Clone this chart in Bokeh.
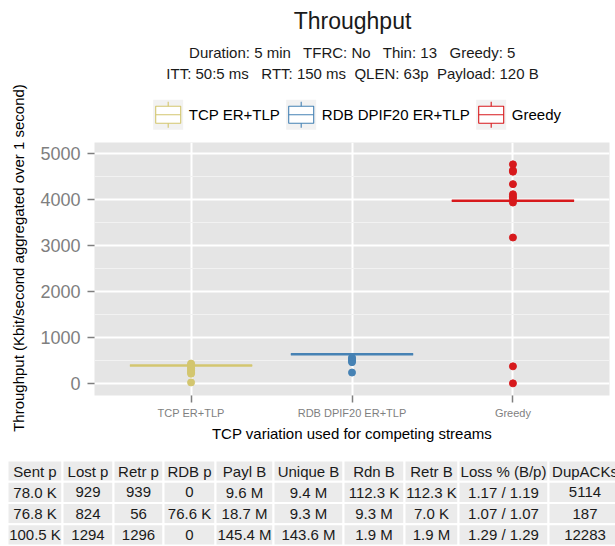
import math
from bokeh.plotting import figure
from bokeh.models import ColumnDataSource, FactorRange, Range1d, FixedTicker
from bokeh.layouts import column, row
from bokeh.transform import dodge
from bokeh.core.properties import value
from bokeh.embed import file_html
from bokeh.resources import INLINE

# ---------------- data ----------------
categories = ["TCP ER+TLP", "RDB DPIF20 ER+TLP", "Greedy"]
series_colors = ["#d3c66f", "#4682b4", "#d7191c"]
box_q1 = [398, 643, 3980]
box_median = [398, 643, 3980]
box_q3 = [398, 643, 3980]
whisker_low = [398, 643, 3980]
whisker_high = [398, 643, 3980]
outliers_tcp = [440, 410, 370, 330, 290, 250, 220, 30]
outliers_rdb = [570, 540, 500, 470, 245]
outliers_greedy = [4770, 4640, 4610, 4340, 4120, 4070, 4030, 3940, 3180, 380, 10]
y_ticks = [0, 1000, 2000, 3000, 4000, 5000]
y_minor = [500, 1500, 2500, 3500, 4500]

title_text = "Throughput"
subtitle_1 = "Duration: 5 min \u00a0 TFRC: No \u00a0 Thin: 13 \u00a0 Greedy: 5"
subtitle_2 = "ITT: 50:5 ms \u00a0 RTT: 150 ms \u00a0QLEN: 63p \u00a0Payload: 120 B"
x_title = "TCP variation used for competing streams"
y_title = "Throughput (Kbit/second aggregated over 1 second)"

table_header = ["Sent p", "Lost p", "Retr p", "RDB p", "Payl B", "Unique B",
                "Rdn B", "Retr B", "Loss % (B/p)", "DupACKs"]
table_tcp = ["78.0 K", "929", "939", "0", "9.6 M", "9.4 M",
             "112.3 K", "112.3 K", "1.17 / 1.19", "5114"]
table_rdb = ["76.8 K", "824", "56", "76.6 K", "18.7 M", "9.3 M",
             "9.3 M", "7.0 K", "1.07 / 1.07", "187"]
table_greedy = ["100.5 K", "1294", "1296", "0", "145.4 M", "143.6 M",
                "1.9 M", "1.9 M", "1.29 / 1.29", "12283"]

# ---------------- layout constants (pixels) ----------------
FONT = "Liberation Sans"
W = 615
STRIP_W = 30
HEAD_H = 134
MAIN_H = 310
TABLE_H = 102
TEXT_COL = "#1a1a1a"


def blank(width, height, xr, yr):
    f = figure(x_range=xr, y_range=yr, width=width, height=height,
               output_backend="svg", toolbar_location=None, min_border=0,
               x_axis_location=None, y_axis_location=None)
    f.frame_align = False
    f.grid.visible = False
    f.outline_line_color = None
    f.background_fill_color = "white"
    f.border_fill_color = "white"
    return f


# ---------------- y-axis title strip ----------------
ystrip = blank(STRIP_W, HEAD_H + MAIN_H, Range1d(0, STRIP_W), Range1d(HEAD_H + MAIN_H, 0))
ystrip.text(x=[18], y=[257.5], text=[y_title], angle=math.pi / 2, text_align="center",
            text_baseline="middle", text_font=value(FONT), text_font_size="15px",
            text_color="black")

# ---------------- header: title, subtitle, legend ----------------
head = blank(W - STRIP_W, HEAD_H, Range1d(STRIP_W, W), Range1d(HEAD_H, 0))
head.text(x=[352, 352, 352], y=[20, 51.5, 72.5], text=[title_text, subtitle_1, subtitle_2],
          text_font_size=["23px", "15px", "15px"], text_align="center",
          text_baseline="middle", text_font=value(FONT), text_color=TEXT_COL)

key_left = [152.7, 285.7, 475.7]
key_top = 99.3
key_size = 30
kx = key_left
kc = [k + key_size / 2 for k in kx]
key_src = ColumnDataSource(dict(
    left=kx, right=[k + key_size for k in kx], cx=kc, color=series_colors,
    bleft=[k + 2.5 for k in kx], bright=[k + key_size - 2.5 for k in kx],
    tx=[k + key_size + 5.6 for k in kx], label=categories))
head.quad(left="left", right="right", top=key_top, bottom=key_top + key_size,
          fill_color="#f2f2f2", line_color=None, source=key_src)
head.segment(x0="cx", y0=key_top + 2, x1="cx", y1=key_top + key_size - 2,
             line_color="color", line_width=1.1, source=key_src)
head.quad(left="bleft", right="bright", top=key_top + 6.5, bottom=key_top + key_size - 6.5,
          fill_color="white", line_color="color", line_width=1.1, source=key_src)
head.segment(x0="bleft", y0=key_top + key_size / 2, x1="bright", y1=key_top + key_size / 2,
             line_color="color", line_width=1.1, source=key_src)
head.text(x="tx", y=key_top + key_size / 2, text="label", text_align="left",
          text_baseline="middle", text_font=value(FONT), text_font_size="15px",
          text_color="black", source=key_src)

# ---------------- main plot ----------------
p = figure(x_range=FactorRange(factors=categories, range_padding=0.1,
                               range_padding_units="absolute"),
           y_range=Range1d(-254, 5245), title=None,
           width=W - STRIP_W, height=MAIN_H, output_backend="svg", toolbar_location=None,
           min_border_left=64, min_border_right=6, min_border_top=8,
           min_border_bottom=49)
p.frame_align = False
p.background_fill_color = "#e5e5e5"
p.border_fill_color = "white"
p.outline_line_color = None

p.xgrid.grid_line_color = "white"
p.xgrid.grid_line_width = 2
p.ygrid.ticker = FixedTicker(ticks=y_ticks, minor_ticks=y_minor)
p.ygrid.grid_line_color = "white"
p.ygrid.grid_line_width = 2
p.ygrid.minor_grid_line_color = "#f2f2f2"
p.ygrid.minor_grid_line_width = 1
p.yaxis.ticker = FixedTicker(ticks=y_ticks)

for ax in (p.xaxis, p.yaxis):
    ax.axis_line_color = None
    ax.major_tick_line_color = "#7f7f7f"
    ax.major_tick_line_width = 1.5
    ax.major_tick_in = 0
    ax.major_tick_out = 7
    ax.minor_tick_line_color = None
    ax.major_label_text_color = "#7f7f7f"
    ax.major_label_text_font = FONT
    ax.axis_label_text_font = FONT
    ax.axis_label_text_font_style = "normal"
    ax.axis_label_text_font_size = "15px"
    ax.axis_label_text_color = "black"
p.yaxis.major_label_text_font_size = "18px"
p.xaxis.major_label_text_font_size = "11px"
p.yaxis.major_label_standoff = 7
p.xaxis.major_label_standoff = 4
p.xaxis.axis_label_standoff = 3
p.xaxis.axis_label = x_title

box_src = ColumnDataSource(dict(cat=categories, q1=box_q1, q3=box_q3, med=box_median,
                                lo=whisker_low, hi=whisker_high, color=series_colors))
p.segment(x0="cat", y0="q3", x1="cat", y1="hi", line_color="color", line_width=1.2, source=box_src)
p.segment(x0="cat", y0="q1", x1="cat", y1="lo", line_color="color", line_width=1.2, source=box_src)
p.vbar(x="cat", width=0.76, top="q3", bottom="q1", fill_color="white",
       line_color="color", line_width=1.2, source=box_src)
p.segment(x0=dodge("cat", -0.38, range=p.x_range), y0="med",
          x1=dodge("cat", 0.38, range=p.x_range), y1="med",
          line_color="color", line_width=2.6, source=box_src)

for cat, vals, col in zip(categories, [outliers_tcp, outliers_rdb, outliers_greedy], series_colors):
    p.scatter(x=[cat] * len(vals), y=vals, size=7, fill_color=col, line_color=col)

# ---------------- table ----------------
col_widths = [55, 51, 50, 52, 58, 70, 61, 54, 90, 73]
table_left = 7
table_top = 16
row_h = 21.25
rows = [table_header, table_tcp, table_rdb, table_greedy]
cx_list, cy_list, w_list, txt_list = [], [], [], []
for r, rw in enumerate(rows):
    x = table_left
    for c, cell in enumerate(rw):
        cx_list.append(x + col_widths[c] / 2)
        cy_list.append(table_top + row_h * (r + 0.5))
        w_list.append(col_widths[c])
        txt_list.append(cell)
        x += col_widths[c]
tsrc = ColumnDataSource(dict(x=cx_list, y=cy_list, w=w_list, text=txt_list))

t = blank(W, TABLE_H, Range1d(0, W), Range1d(TABLE_H, 0))
t.rect(x="x", y="y", width="w", height=row_h, fill_color="#ebebeb", line_color="white",
       line_width=2, source=tsrc)
t.text(x="x", y="y", text="text", text_align="center", text_baseline="middle",
       text_font=value(FONT), text_font_size="15px", text_color=TEXT_COL, source=tsrc)

layout = column(row(ystrip, column(head, p, spacing=0), spacing=0), t, spacing=0)
open("out.html", "w").write(file_html(layout, INLINE))
